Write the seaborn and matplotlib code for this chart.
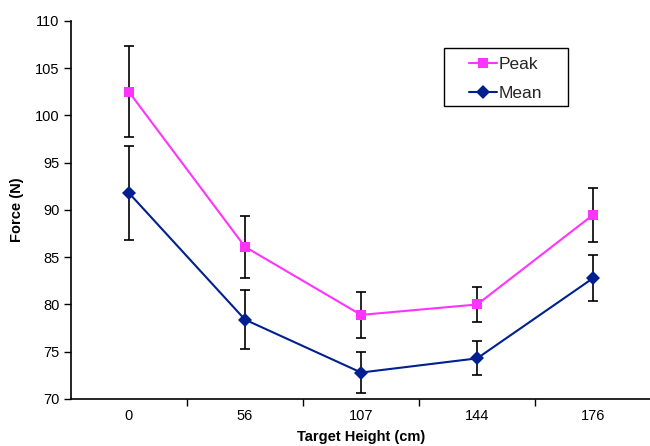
import matplotlib
matplotlib.use("Agg")
import matplotlib.pyplot as plt
from matplotlib.patches import Rectangle
import seaborn as sns
import numpy as np
import pandas as pd

categories = ["0", "56", "107", "144", "176"]
peak = [102.5, 86.1, 78.9, 80.0, 89.5]
peak_err = [4.8, 3.3, 2.45, 1.85, 2.85]
mean = [91.8, 78.4, 72.8, 74.3, 82.8]
mean_err = [5.0, 3.1, 2.2, 1.8, 2.45]

sns.set_theme(style="white")
plt.rcParams['font.family'] = ['Liberation Sans', 'DejaVu Sans']

pos = np.arange(len(categories))
df = pd.DataFrame({
    "pos": np.concatenate([pos, pos]),
    "force": peak + mean,
    "series": ["Peak"] * len(pos) + ["Mean"] * len(pos),
})

fig = plt.figure(figsize=(6.5, 4.46), dpi=100)
ax = fig.add_axes([0.109, 0.1054, 0.893, 0.8476])

colors = {"Peak": "#FF33FF", "Mean": "#00208F"}

ax.errorbar(pos, peak, yerr=peak_err, fmt="none", ecolor="black", elinewidth=1.2,
            capsize=3.5, capthick=1.2, zorder=1)
ax.errorbar(pos, mean, yerr=mean_err, fmt="none", ecolor="black", elinewidth=1.2,
            capsize=3.5, capthick=1.2, zorder=1)

sns.lineplot(data=df[df.series == "Peak"], x="pos", y="force", color=colors["Peak"],
             marker="s", markersize=7.5, markeredgewidth=0, linewidth=1.5,
             label="Peak", ax=ax, zorder=3)
sns.lineplot(data=df[df.series == "Mean"], x="pos", y="force", color=colors["Mean"],
             marker="D", markersize=7, markeredgewidth=0, linewidth=1.5,
             label="Mean", ax=ax, zorder=3)

ax.set_xlim(-0.5, len(categories) - 0.5)
ax.set_ylim(70, 110)
ax.set_yticks(np.arange(70, 111, 5))
ax.set_xticks(pos)
ax.set_xticklabels(categories)
ax.set_xticks(np.arange(0.5, len(categories) - 0.5, 1.0), minor=True)
ax.tick_params(axis="x", which="major", length=0, pad=7, labelsize=10.5, colors="black")
ax.tick_params(axis="x", which="minor", length=5, width=1, direction="out", bottom=True, color="black")
ax.tick_params(axis="y", which="major", length=5, width=1, direction="out", left=True,
               labelsize=10.5, pad=3, colors="black")

for side in ["top", "right"]:
    ax.spines[side].set_visible(False)
for side in ["left", "bottom"]:
    ax.spines[side].set_color("black")
    ax.spines[side].set_linewidth(1.2)

ax.set_xlabel("Target Height (cm)", fontsize=10.5, fontweight="bold", labelpad=5, color="black")
ax.set_ylabel("Force (N)", fontsize=10.5, fontweight="bold", labelpad=8, color="black")

leg = ax.legend(loc="upper left", bbox_to_anchor=(469 / 650, 1 - 57 / 446),
                bbox_transform=fig.transFigure, frameon=False, fontsize=12.5,
                handlelength=1.6, handletextpad=0.12, borderpad=0, labelspacing=0.79,
                borderaxespad=0)
fig.patches.append(Rectangle((444 / 650, 1 - 106 / 446), 124 / 650, 58 / 446,
                             transform=fig.transFigure, fill=False, edgecolor="black",
                             linewidth=1.0, zorder=5))

fig.savefig("out.png", dpi=100)
